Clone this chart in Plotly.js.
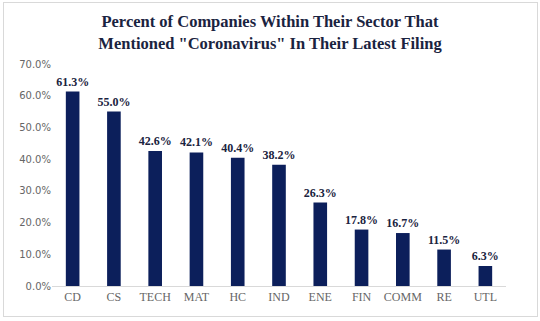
<!DOCTYPE html>
<html>
<head>
<meta charset="utf-8">
<script src="https://cdn.plot.ly/plotly-3.0.1.min.js"></script>
<style>
html,body{margin:0;padding:0;background:#fff;}
#wrap{position:relative;width:540px;height:321px;}
#chart{width:540px;height:321px;}
#frame{position:absolute;left:3px;top:2px;width:533px;height:313px;border:1px solid #d9d9d9;pointer-events:none;}
</style>
</head>
<body>
<div id="wrap"><div id="chart"></div><div id="frame"></div></div>
<script>
const sectors = ["CD","CS","TECH","MAT","HC","IND","ENE","FIN","COMM","RE","UTL"];
const percentMentioned = [61.3, 55.0, 42.6, 42.1, 40.4, 38.2, 26.3, 17.8, 16.7, 11.5, 6.3];
const yTicks = [0,10,20,30,40,50,60,70];

const navy = "#0c1f5b";
const trace = {
  type: "bar",
  x: sectors,
  y: percentMentioned,
  marker: {color: navy},
  text: percentMentioned.map(v => v.toFixed(1) + "%"),
  textposition: "outside",
  constraintext: "none",
  cliponaxis: false,
  textfont: {family: "Liberation Serif, serif", size: 12, color: "#1a2340", weight: "bold"},
  hoverinfo: "none"
};
const layout = {
  width: 540, height: 321,
  margin: {l: 52, r: 34, t: 64, b: 35},
  paper_bgcolor: "#fff", plot_bgcolor: "#fff",
  bargap: 0.67,
  showlegend: false,
  title: {
    text: "Percent of Companies Within Their Sector That<br>Mentioned \"Coronavirus\" In Their Latest Filing",
    x: 0.5, xanchor: "center", y: 0.915, yanchor: "top",
    font: {family: "Liberation Serif, serif", size: 16.5, color: "#1a2340", weight: "bold"}
  },
  xaxis: {
    type: "category",
    showline: true, linecolor: "#d9d9d9", linewidth: 1,
    ticks: "", showgrid: false,
    tickfont: {family: "Liberation Serif, serif", size: 12, color: "#666666"}
  },
  yaxis: {
    range: [0, 70], tickvals: yTicks, ticktext: yTicks.map(v => v.toFixed(1) + "%"),
    showgrid: false, zeroline: false, showline: false, ticks: "",
    tickfont: {family: "DejaVu Sans, sans-serif", size: 10, color: "#666666"}
  }
};
Plotly.newPlot("chart", [trace], layout, {staticPlot: true, displayModeBar: false});
</script>
</body>
</html>
